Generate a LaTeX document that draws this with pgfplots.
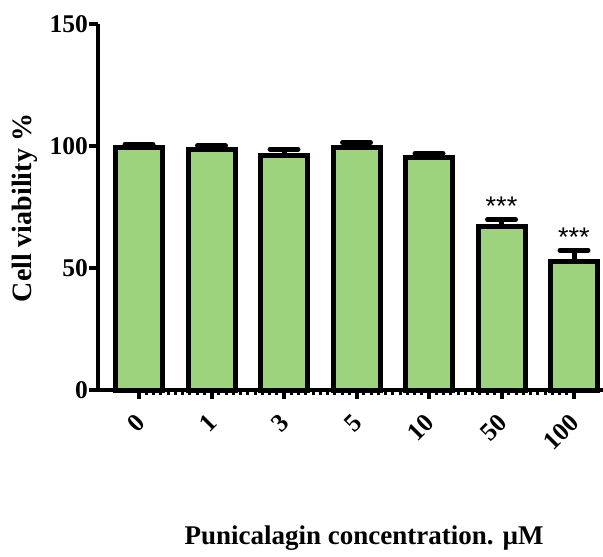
\documentclass[border=0pt]{standalone}
\usepackage{pgfplots}
\pgfplotsset{compat=1.18}
\usepackage{fontspec}
\setmainfont{Liberation Serif}
\newfontfamily\starfont{Liberation Sans}
\definecolor{barfill}{RGB}{158,211,126}
\begin{document}
\begin{tikzpicture}
\useasboundingbox (-98pt,-167pt) rectangle (505pt,390pt);
\begin{axis}[
  scale only axis,
  width=505pt, height=366pt,
  xmin=-0.566, xmax=6.40,
  ymin=0, ymax=150,
  axis x line*=bottom, axis y line*=left,
  axis line style={line width=4.5pt, -},
  ytick={0,50,100,150},
  xtick={0,...,6},
  xticklabels={0,1,3,5,10,50,100},
  minor x tick num=9,
  tick align=outside,
  major tick length=9pt,
  minor tick length=5pt,
  every major tick/.style={line width=4pt, black},
  every minor tick/.style={line width=3pt, black},
  ytick style={line width=4pt},
  /pgf/number format/assume math mode=true,
  tick label style={font=\fontsize{25.5}{30}\selectfont\bfseries},
  yticklabel style={inner sep=1pt},
  xticklabel style={xshift=-5pt, yshift=-11.6pt, rotate=45, anchor=north east, inner sep=1pt},
  ylabel={Cell viability \%},
  ylabel style={at={(axis description cs:-0.1446,0.497)}, anchor=center, rotate=0, font=\fontsize{28}{32}\selectfont\bfseries},
  xlabel={Punicalagin concentration. µM},
  xlabel style={at={(axis description cs:0.527,-0.405)}, anchor=center, font=\fontsize{27}{32}\selectfont\bfseries},
  clip=false,
]
\addplot[ybar, bar width=47pt, fill=barfill, draw=black, line width=5pt,
  error bars/.cd, y dir=plus, y explicit,
  error bar style={line width=5pt, black},
  error mark options={rotate=90, mark size=14pt, line width=5pt, line cap=round, black}]
  coordinates {
  (0,99.4) +- (0,1.3)
  (1,98.7) +- (0,1.4)
  (2,96.2) +- (0,2.5)
  (3,99.4) +- (0,2.0)
  (4,95.2) +- (0,1.7)
  (5,67.1) +- (0,2.7)
  (6,52.6) +- (0,4.6)
  };
\node[font=\starfont\fontsize{27}{30}\selectfont] at (axis cs:5,75.2) {***};
\node[font=\starfont\fontsize{27}{30}\selectfont] at (axis cs:6,62.8) {***};
\end{axis}
\end{tikzpicture}
\end{document}
